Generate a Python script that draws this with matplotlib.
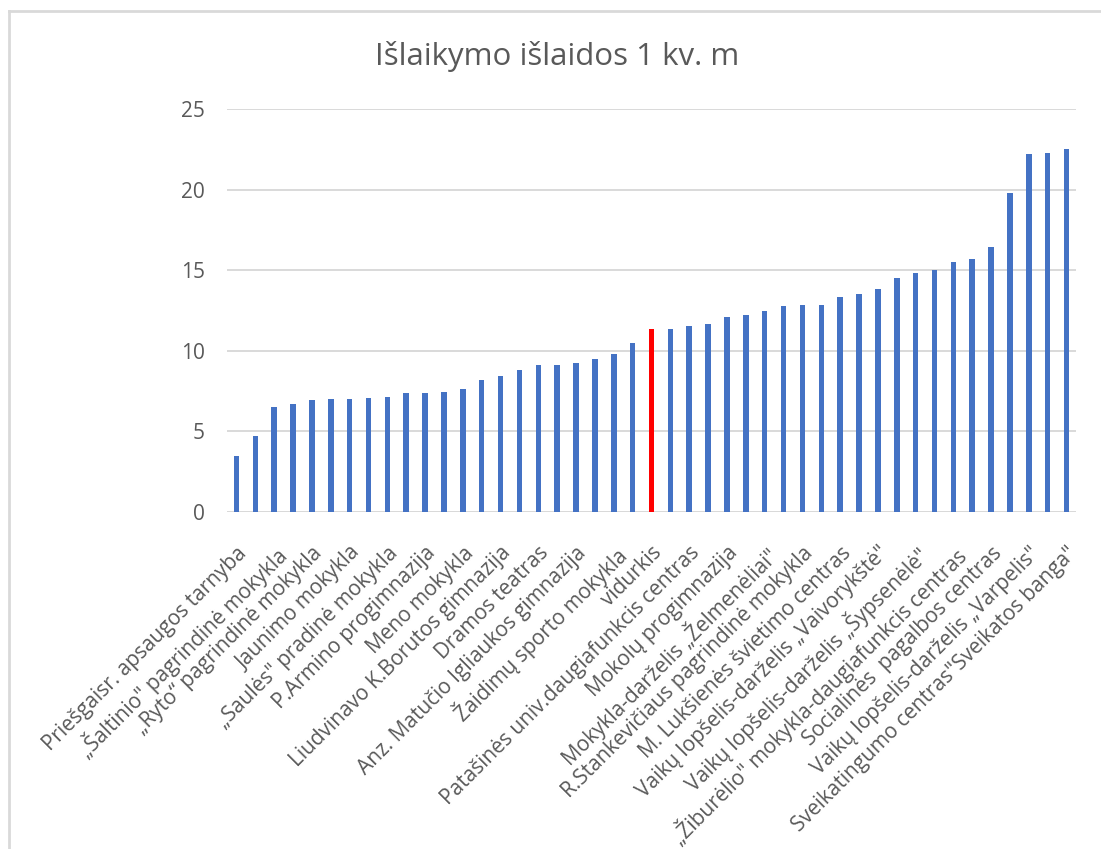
import numpy as np
import matplotlib.pyplot as plt
from matplotlib.lines import Line2D

# ==========================
# Duomenys (nuskaityta nuo paveikslo)
# ==========================
title = "Išlaikymo išlaidos 1 kv. m"

# rodomi tik kas antri pavadinimai (kaip Excel'yje)
shown_labels = [
    "Priešgaisr. apsaugos tarnyba",
    "„Šaltinio\" pagrindinė mokykla",
    "„Ryto“ pagrindinė mokykla",
    "Jaunimo mokykla",
    "„Saulės\" pradinė mokykla",
    "P.Armino progimnazija",
    "Meno mokykla",
    "Liudvinavo K.Borutos gimnazija",
    "Dramos teatras",
    "Anz. Matučio Igliaukos gimnazija",
    "Žaidimų sporto mokykla",
    "vidurkis",
    "Patašinės univ.daugiafunkcis centras",
    "Mokolų progimnazija",
    "Mokykla-darželis „Želmenėliai\"",
    "R.Stankevičiaus pagrindinė mokykla",
    "M. Lukšienės švietimo centras",
    "Vaikų lopšelis-darželis „Vaivorykštė\"",
    "Vaikų lopšelis-darželis „Šypsenėlė\"",
    "„Žiburėlio\" mokykla-daugiafunkcis centras",
    "Socialinės  pagalbos centras",
    "Vaikų lopšelis-darželis „Varpelis\"",
    "Sveikatingumo centras\"Sveikatos banga\"",
]

values = [
    3.48, 4.74, 6.50, 6.67, 6.92, 6.98, 6.98, 7.06, 7.15, 7.37,
    7.37, 7.46, 7.60, 8.16, 8.43, 8.80, 9.13, 9.13, 9.22, 9.47,
    9.78, 10.48, 11.35, 11.35, 11.52, 11.68, 12.08, 12.22, 12.47, 12.78,
    12.86, 12.86, 13.34, 13.50, 13.82, 14.54, 14.85, 15.02, 15.49, 15.72,
    16.45, 19.78, 22.18, 22.27, 22.49,
]
avg_index = 22   # "vidurkis" stulpelis raudonas

yticks = [0, 5, 10, 15, 20, 25]

# ==========================
# Spalvos / stilius
# ==========================
BLUE = "#4472C4"
RED = "#FF0000"
TXT = "#595959"
GRID = "#D9D9D9"
plt.rcParams['font.family'] = ['Open Sans', 'DejaVu Sans']

fig = plt.figure(figsize=(11.01, 8.49), dpi=100)
ax = fig.add_axes([227 / 1101, 1 - 512 / 849, (1076 - 227) / 1101, (512 - 109) / 849])

x = np.arange(len(values))
colors = [RED if i == avg_index else BLUE for i in x]
ax.bar(x, values, width=0.29, color=colors, zorder=3)

ax.set_xlim(-0.5, len(values) - 0.5)
ax.set_ylim(0, 25)
ax.set_yticks(yticks)
ax.yaxis.grid(True, color=GRID, linewidth=1.4, zorder=0)
ax.tick_params(axis='y', length=0, pad=16, labelsize=15, labelcolor=TXT)
for s in ax.spines.values():
    s.set_visible(False)
ax.axhline(0, color=GRID, linewidth=1.4, zorder=2)

ax.set_xticks(x[::2])
ax.set_xticklabels(shown_labels, rotation=45, ha='right', va='top',
                   rotation_mode='anchor', fontsize=15, color=TXT)
ax.tick_params(axis='x', length=0, pad=22)

fig.text(557 / 1101, 1 - 56 / 849, title, ha='center', va='center',
         fontsize=22.5, color=TXT)

# rėmelis (Excel diagramos kraštas)
fig.add_artist(Line2D([9 / 1101, 1], [1 - 11 / 849, 1 - 11 / 849],
                      transform=fig.transFigure, color=GRID, linewidth=2))
fig.add_artist(Line2D([9 / 1101, 9 / 1101], [0, 1 - 11 / 849],
                      transform=fig.transFigure, color=GRID, linewidth=2))

fig.savefig("out.png", dpi=100)
